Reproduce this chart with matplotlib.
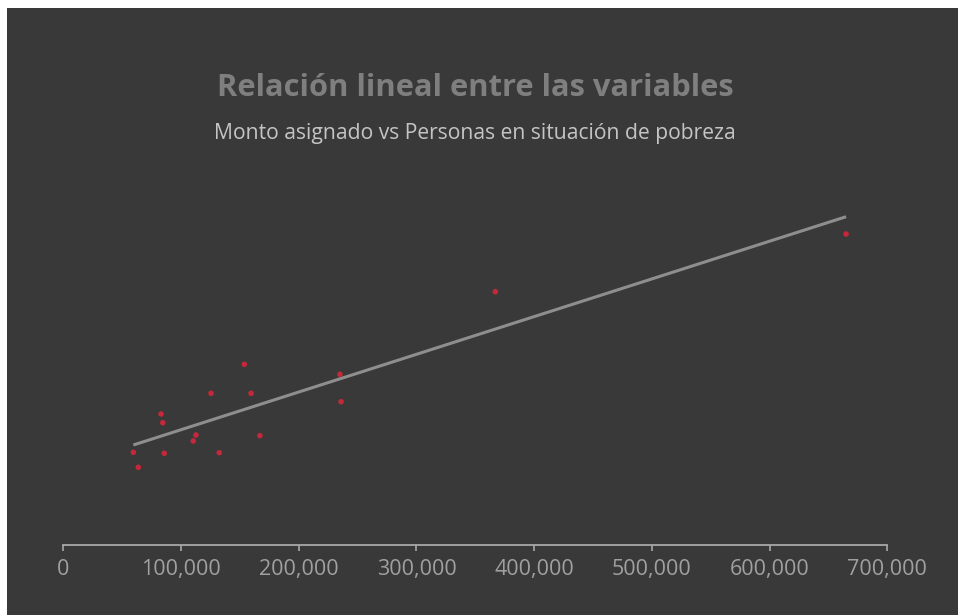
import matplotlib.pyplot as plt
from matplotlib.patches import Rectangle
from matplotlib.ticker import FuncFormatter

# monto asignado (x) y personas en situacion de pobreza (y, escala estimada)
monto = [153800, 125500, 159500, 83000, 84500, 112700, 110400, 167000,
         59500, 85800, 132500, 63700, 235000, 236000, 367000, 665000]
personas = [18070, 15170, 15170, 13100, 12230, 11000, 10400, 10930,
            9270, 9170, 9230, 7770, 17070, 14330, 25330, 31100]

# recta de tendencia (extremos)
tendencia_x = [59500, 665000]
tendencia_y = [10000, 32830]

ticks_x = [0, 100000, 200000, 300000, 400000, 500000, 600000, 700000]

fondo = '#393939'

fig = plt.figure(figsize=(9.58, 6.15), dpi=100)
fig.patch.set_facecolor('white')
fig.patches.append(Rectangle((7 / 958, 0), 1, 1 - 8 / 615, transform=fig.transFigure,
                             facecolor=fondo, edgecolor='none', zorder=-10))

ax = fig.add_axes([63.3 / 958, 1 - 545 / 615, 824 / 958, 375 / 615])
ax.set_zorder(5)
ax.set_facecolor('none')

ax.plot(tendencia_x, tendencia_y, color='#8e8e8e', linewidth=2.2, solid_capstyle='butt', zorder=2)
ax.scatter(monto, personas, s=16, color='#c4283a', edgecolors='none', zorder=3)

ax.set_xlim(0, 700000)
ax.set_ylim(0, 37500)
ax.set_xticks(ticks_x)
ax.xaxis.set_major_formatter(FuncFormatter(lambda v, p: f'{int(v):,}'))
ax.set_yticks([])

for lado in ['top', 'right', 'left']:
    ax.spines[lado].set_visible(False)
ax.spines['bottom'].set_color('#a8a8a8')
ax.spines['bottom'].set_linewidth(1.3)
ax.tick_params(axis='x', colors='#a8a8a8', length=4, width=1.2, pad=6,
               labelsize=15.5, labelcolor='#a0a0a0')
for t in ax.get_xticklabels():
    t.set_fontfamily('Open Sans')

t1 = fig.text(475 / 958, 1 - 88 / 615, 'Relación lineal entre las variables', ha='center', va='center',
              fontsize=22.2, fontweight='bold', color='#7f7f7f', family='Open Sans', zorder=6)
t2 = fig.text(475 / 958, 1 - 134 / 615, 'Monto asignado vs Personas en situación de pobreza',
              ha='center', va='center', fontsize=15.2, color='#c4c4c4', family='Open Sans', zorder=6)

plt.savefig('out.png', dpi=100, facecolor=fig.get_facecolor())
